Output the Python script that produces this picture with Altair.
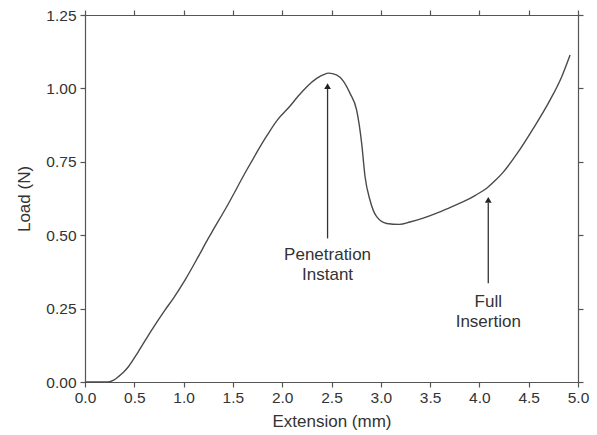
import altair as alt
import pandas as pd

# Load–extension curve
ext_mm = [0.0, 0.1, 0.2, 0.236, 0.29, 0.338, 0.39, 0.44, 0.54, 0.676, 0.811, 0.896,
          1.014, 1.149, 1.25, 1.30, 1.437, 1.64, 1.843, 1.95, 2.08, 2.163, 2.25, 2.35,
          2.42, 2.47, 2.55, 2.62, 2.688, 2.755, 2.806, 2.84, 2.89, 2.958, 3.06, 3.19,
          3.296, 3.43, 3.567, 3.70, 3.837, 3.96, 4.074, 4.16, 4.24, 4.378, 4.547,
          4.716, 4.835, 4.92]
load_n = [0.0, 0.0, 0.0, 0.0, 0.006, 0.018, 0.033, 0.052, 0.103, 0.177, 0.245, 0.285,
          0.347, 0.427, 0.489, 0.518, 0.597, 0.722, 0.838, 0.892, 0.940, 0.974, 1.006, 1.034,
          1.047, 1.052, 1.046, 1.025, 0.983, 0.926, 0.813, 0.70, 0.62, 0.563, 0.54, 0.537,
          0.545, 0.558, 0.575, 0.594, 0.614, 0.636, 0.66, 0.686, 0.714, 0.776, 0.864,
          0.96, 1.04, 1.114]

# Annotations
ann_x = [2.46, 4.09]
ann_line_bottom = [0.489, 0.336]
ann_line_top = [1.0, 0.61]
ann_head = [1.008, 0.62]
ann_line1 = ["Penetration", "Full"]
ann_line1_y = [0.433, 0.273]
ann_line2 = ["Instant", "Insertion"]
ann_line2_y = [0.363, 0.204]

x_ticks = [0, 0.5, 1, 1.5, 2, 2.5, 3, 3.5, 4, 4.5, 5]
y_ticks = [0, 0.25, 0.5, 0.75, 1.0, 1.25]

curve = pd.DataFrame({"x": ext_mm, "y": load_n})
arrows = pd.DataFrame({"x": ann_x, "y0": ann_line_bottom, "y1": ann_line_top, "yh": ann_head})
texts = pd.DataFrame({
    "x": ann_x + ann_x,
    "y": ann_line1_y + ann_line2_y,
    "t": ann_line1 + ann_line2,
})

FONT = "Liberation Sans"
AX = "#555555"
TXT = "#333333"

xs = alt.Scale(domain=[0, 5], nice=False, zero=False)
ys = alt.Scale(domain=[0, 1.25], nice=False, zero=False)

common = dict(domainColor=AX, tickColor=AX, tickSize=5, domainWidth=1.2, tickWidth=1.2,
              grid=False, labelFont=FONT, labelFontSize=15.5, labelColor=TXT,
              labelFlush=False,
              titleFont=FONT, titleFontSize=17, titleFontWeight="normal", titleColor=TXT)

x_bottom = alt.Axis(values=x_ticks, format=".1f", title="Extension (mm)", orient="bottom",
                    labelPadding=3, titlePadding=8, **common)
y_left = alt.Axis(values=y_ticks, format=".2f", title="Load (N)", orient="left",
                  labelPadding=4, titlePadding=12, **common)
x_top = alt.Axis(values=x_ticks, labels=False, title=None, orient="top", **common)
y_right = alt.Axis(values=y_ticks, labels=False, title=None, orient="right", **common)

line = alt.Chart(curve).mark_line(color="#4a4a4a", strokeWidth=1.4, interpolate="monotone").encode(
    x=alt.X("x:Q", scale=xs, axis=x_bottom),
    y=alt.Y("y:Q", scale=ys, axis=y_left),
)

frame = alt.Chart(curve).mark_line(opacity=0).encode(
    x=alt.X("x:Q", scale=xs, axis=x_top),
    y=alt.Y("y:Q", scale=ys, axis=y_right),
)

shafts = alt.Chart(arrows).mark_rule(color="#333333", strokeWidth=1.3).encode(
    x=alt.X("x:Q", scale=xs), y=alt.Y("y0:Q", scale=ys), y2="y1:Q"
)
heads = alt.Chart(arrows).mark_point(shape="triangle-up", filled=True, color="#222222",
                                     size=45, opacity=1).encode(
    x=alt.X("x:Q", scale=xs), y=alt.Y("yh:Q", scale=ys)
)
labels = alt.Chart(texts).mark_text(font=FONT, fontSize=17, color=TXT, baseline="middle",
                                    align="center").encode(
    x=alt.X("x:Q", scale=xs), y=alt.Y("y:Q", scale=ys), text="t:N"
)

main = alt.layer(line, shafts, heads, labels)

chart = alt.layer(main, frame).resolve_axis(x="independent", y="independent").properties(
    width=493, height=367,
    autosize=alt.AutoSizeParams(type="none"),
    padding={"left": 85, "top": 15, "right": 19, "bottom": 53},
).configure_view(stroke=None).configure(background="white")

chart.save("out.html", embed_options={"renderer": "svg", "actions": False})
